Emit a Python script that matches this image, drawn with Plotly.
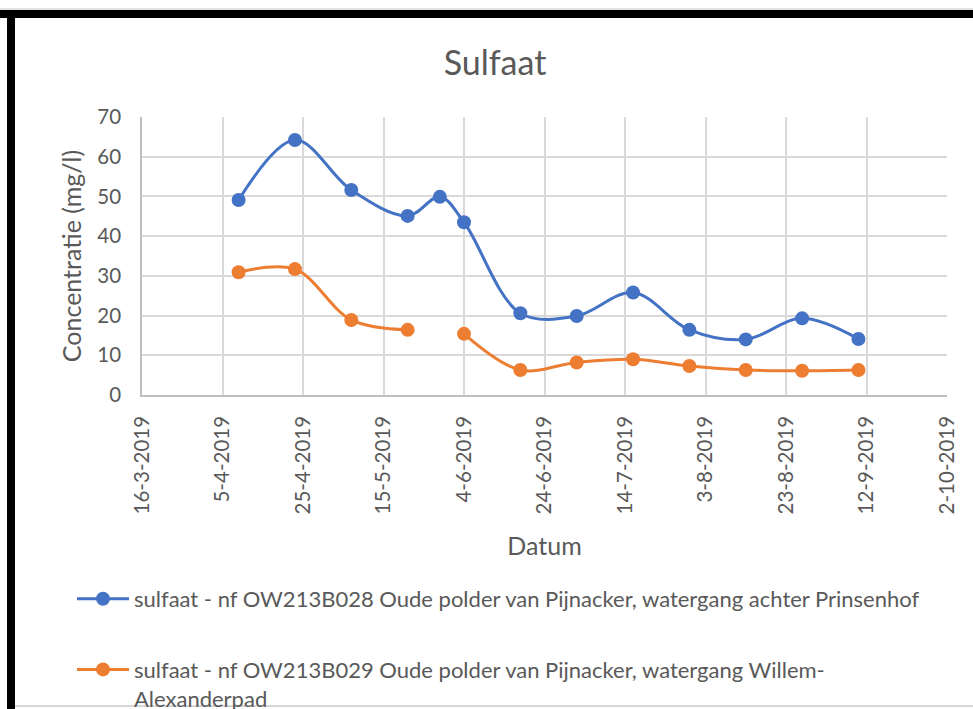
import plotly.graph_objects as go

# ---- data ----
dates = ['2019-04-09', '2019-04-23', '2019-05-07', '2019-05-21', '2019-05-29', '2019-06-04',
         '2019-06-18', '2019-07-02', '2019-07-16', '2019-07-30', '2019-08-13', '2019-08-27',
         '2019-09-10']
sulfaat_b028 = [49.1, 64.2, 51.6, 45.1, 49.9, 43.5, 20.6, 19.9, 25.8, 16.4, 14.0, 19.3, 14.1]
sulfaat_b029 = [30.9, 31.7, 18.9, 16.4, None, 15.4, 6.3, 8.2, 9.0, 7.3, 6.3, 6.1, 6.3]

name_b028 = 'sulfaat - nf OW213B028 Oude polder van Pijnacker, watergang achter Prinsenhof'
name_b029 = 'sulfaat - nf OW213B029 Oude polder van Pijnacker, watergang Willem-<br>Alexanderpad'

tick_dates = ['2019-03-16', '2019-04-05', '2019-04-25', '2019-05-15', '2019-06-04', '2019-06-24',
              '2019-07-14', '2019-08-03', '2019-08-23', '2019-09-12', '2019-10-02']
tick_labels = ['16-3-2019', '5-4-2019', '25-4-2019', '15-5-2019', '4-6-2019', '24-6-2019',
               '14-7-2019', '3-8-2019', '23-8-2019', '12-9-2019', '2-10-2019']
y_ticks = [0, 10, 20, 30, 40, 50, 60, 70]

BLUE = '#4472C4'
ORANGE = '#ED7D31'
TEXT = '#595959'
GRID = '#D9D9D9'
FONT = 'Lato'

W, H = 973, 709
L, R, T, B = 142, 947, 117, 395  # plot area in pixels


def px(x):
    return (x - L) / (R - L)


def py(y):
    return (B - y) / (B - T)


fig = go.Figure()
fig.add_trace(go.Scatter(
    x=dates, y=sulfaat_b028, name=name_b028, mode='lines+markers',
    line=dict(color=BLUE, width=3, shape='spline', smoothing=1),
    marker=dict(color=BLUE, size=14), legendgroup='a', connectgaps=False))
fig.add_trace(go.Scatter(
    x=dates, y=sulfaat_b029, name=name_b029, mode='lines+markers',
    line=dict(color=ORANGE, width=3, shape='spline', smoothing=1),
    marker=dict(color=ORANGE, size=14), legendgroup='b', connectgaps=False))

shapes = [
    # frame: top band, left band, bottom lines
    dict(type='rect', xref='paper', yref='paper', x0=px(0), x1=px(973), y0=py(18), y1=py(10),
         fillcolor='black', line_width=0, layer='above'),
    dict(type='line', xref='paper', yref='paper', x0=px(0), x1=px(973), y0=py(9), y1=py(9),
         line=dict(color='#C8C8C8', width=1), layer='above'),
    dict(type='rect', xref='paper', yref='paper', x0=px(7), x1=px(15), y0=py(712), y1=py(10),
         fillcolor='black', line_width=0, layer='above'),
    dict(type='line', xref='paper', yref='paper', x0=px(15), x1=px(973), y0=py(706), y1=py(706),
         line=dict(color='#C8C8C8', width=1.5), layer='above'),
]

fig.update_layout(
    width=W, height=H,
    margin=dict(l=L, r=W - R, t=T, b=H - B, pad=0, autoexpand=False),
    paper_bgcolor='white', plot_bgcolor='white',
    font=dict(family=FONT, color=TEXT, size=20),
    title=dict(text='Sulfaat', x=495 / W, xanchor='center',
               y=1 - 63 / H, yanchor='middle',
               font=dict(family=FONT, size=34, color=TEXT)),
    xaxis=dict(
        type='date', range=['2019-03-16', '2019-10-02'],
        tickmode='array', tickvals=tick_dates, ticktext=tick_labels,
        tickangle=-90, ticks='outside', ticklen=11, tickcolor='rgba(0,0,0,0)',
        tickfont=dict(family=FONT, size=20.5, color=TEXT),
        showgrid=True, gridcolor=GRID, gridwidth=1.5,
        showline=True, linecolor='#BFBFBF', linewidth=1.5, mirror=False,
        zeroline=False, automargin=False,
        title=dict(text='Datum', standoff=24, font=dict(family=FONT, size=25, color=TEXT)),
    ),
    yaxis=dict(
        range=[0, 70], tickmode='array', tickvals=y_ticks,
        ticks='outside', ticklen=15, tickcolor='rgba(0,0,0,0)',
        tickfont=dict(family=FONT, size=20.5, color=TEXT),
        showgrid=True, gridcolor=GRID, gridwidth=1.5,
        showline=True, linecolor='#BFBFBF', linewidth=1.5,
        zeroline=False, automargin=False,
        title=dict(text='Concentratie (mg/l)', standoff=9,
                   font=dict(family=FONT, size=25, color=TEXT)),
    ),
    legend=dict(
        orientation='v', x=px(72), xanchor='left', y=py(578), yanchor='top',
        font=dict(family=FONT, size=22, color=TEXT),
        tracegroupgap=39, itemwidth=52, valign='top',
        bgcolor='rgba(0,0,0,0)',
    ),
    shapes=shapes,
    showlegend=True,
)

fig.write_html('out.html', config={'displayModeBar': False},
               post_script="document.body.style.margin='0';document.body.style.overflow='hidden';")
